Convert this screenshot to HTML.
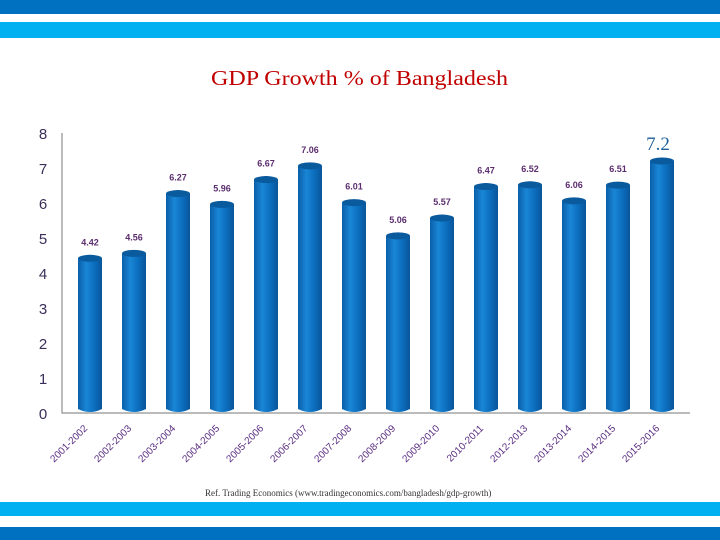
<!DOCTYPE html>
<html><head><meta charset="utf-8"><style>
html,body{margin:0;padding:0;background:#fff;}
body{width:720px;height:540px;position:relative;overflow:hidden;font-family:"Liberation Sans",sans-serif;}
.band{position:absolute;left:0;width:720px;}
</style></head><body>
<div class="band" style="top:0;height:14px;background:#0070c0"></div>
<div class="band" style="top:22px;height:16px;background:#00b0f0"></div>
<div class="band" style="top:502px;height:14px;background:#00b0f0"></div>
<div class="band" style="top:527px;height:13px;background:#0070c0"></div>
<svg id="chart" width="720" height="540" style="position:absolute;left:0;top:0">
<defs>
<linearGradient id="cyl" x1="0" x2="1" y1="0" y2="0">
<stop offset="0" stop-color="#0a5fa8"/><stop offset="0.35" stop-color="#1a86d6"/><stop offset="0.7" stop-color="#0b6cbc"/><stop offset="1" stop-color="#0a5598"/>
</linearGradient>
</defs>
<text x="211" y="85" textLength="297" lengthAdjust="spacingAndGlyphs" font-family="Liberation Serif,serif" font-size="21" fill="#c00000">GDP Growth % of Bangladesh</text>
<text x="205" y="496" font-family="Liberation Serif,serif" font-size="9" fill="#333">Ref. Trading Economics (www.tradingeconomics.com/bangladesh/gdp-growth)</text>
</svg>
<script>
const categories=["2001-2002","2002-2003","2003-2004","2004-2005","2005-2006","2006-2007","2007-2008","2008-2009","2009-2010","2010-2011","2012-2013","2013-2014","2014-2015","2015-2016"];
const values=[4.42,4.56,6.27,5.96,6.67,7.06,6.01,5.06,5.57,6.47,6.52,6.06,6.51,7.2];
const yTicks=[0,1,2,3,4,5,6,7,8];
const NS="http://www.w3.org/2000/svg";
const svg=document.getElementById('chart');
const y0=413,unit=35,axX=62;
function yS(v){return y0-v*unit;}
function xS(i){return 90+i*44;}
function mk(t,a){const e=document.createElementNS(NS,t);for(const k in a)e.setAttribute(k,a[k]);svg.appendChild(e);return e;}
const ax=mk('path',{d:`M${axX} ${yS(8)} V${y0} H690`,stroke:'#777',fill:'none','stroke-width':1});


yTicks.forEach(t=>{
 const e=mk('text',{x:43,y:yS(t)+6,'text-anchor':'middle','font-size':15,fill:'#3b2f5a'});
 e.textContent=t;
 
 
});
values.forEach((v,i)=>{
 const cx=xS(i),w=24,top=yS(v);
 const g=document.createElementNS(NS,'g');svg.appendChild(g);
 
 
 const b=document.createElementNS(NS,'path');
 b.setAttribute('d',`M${cx-w/2} ${top} V${y0-4} Q${cx} ${y0+2} ${cx+w/2} ${y0-4} V${top} Z`);
 b.setAttribute('fill','url(#cyl)');g.appendChild(b);
 const c=document.createElementNS(NS,'ellipse');
 c.setAttribute('cx',cx);c.setAttribute('cy',top);c.setAttribute('rx',w/2);c.setAttribute('ry',3.5);
 c.setAttribute('fill','#0a5a9e');g.appendChild(c);
 const last=i===values.length-1;
 const l=mk('text',last?{x:cx-4,y:top-11,'text-anchor':'middle','font-family':'Liberation Serif,serif','font-size':19,fill:'#1f5f99'}:{x:cx,y:top-13,'text-anchor':'middle','font-size':9,'font-weight':'bold',fill:'#5b2d6e'});
 l.textContent=last?String(v):v.toFixed(2);
 
 
 const tx=cx-2,ty=429;
 const t=mk('text',{x:tx,y:ty,'text-anchor':'end','font-size':10,fill:'#5a2d82',transform:`rotate(-45 ${tx} ${ty})`});
 t.textContent=categories[i];
 
 
});
</script>
</body></html>
